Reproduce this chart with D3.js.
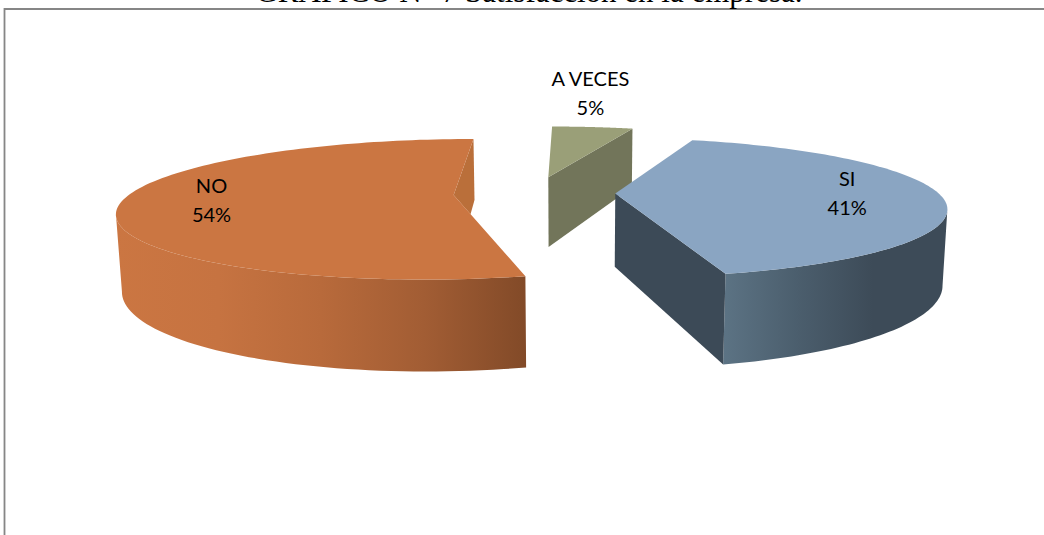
<!DOCTYPE html>
<html lang="es">
<head>
<meta charset="utf-8">
<title>Satisfacción en la empresa</title>
<script src="https://cdn.jsdelivr.net/npm/d3@7"></script>
<style>
  html, body { margin: 0; padding: 0; background: #fff; overflow: hidden; }
  svg { display: block; }
</style>
</head>
<body>
<script>
// Survey answers, in pie order (clockwise from the back of the pie)
const categories = ["A VECES", "SI", "NO"];
const percentages = [5, 41, 54];
const titleText = "GRÁFICO N° 7 Satisfacción en la empresa.";

const width = 1044, height = 535;

// Perspective camera for the pie's ground plane
const cam = {
  vanishX: 572, horizonY: -140,   // vanishing point of the pie's "north" axis
  centerX: 534.5, centerY: 193,   // pie centre on screen
  radiusX: 323,                   // screen radius at the centre's depth
  depth: 5,                       // camera distance in pie radii
  thickness: 73,                  // wall height at the centre's depth
  convergence: 0.00017,           // inward lean of the walls per pixel of height
  explode: 0.25                   // slice offset in pie radii
};

// Project a ground-plane point (X to the right, Z away from the viewer)
function project(X, Z) {
  const s = 1 / (1 + Z / cam.depth);
  return {
    x: cam.vanishX + s * (cam.centerX - cam.vanishX + cam.radiusX * X),
    y: cam.horizonY + s * (cam.centerY - cam.horizonY),
    s
  };
}
// Same point at the bottom of the slab
function drop(p) {
  const h = cam.thickness * p.s;
  return { x: cam.vanishX + (p.x - cam.vanishX) * (1 - cam.convergence * h), y: p.y + h };
}

const pie = d3.pie().sort(null).value(d => d.value);
const slices = pie(categories.map((name, i) => ({ name, value: percentages[i] })));

const styles = {
  "A VECES": { top: "#9a9f78", cut: "#72755a", ramp: ["#72755a", "#72755a"] },
  "SI":      { top: "#8aa5c2", cut: "#3c4a57", ramp: ["#5c7384", "#4b5e6d", "#3d4b58", "#3d4b58"] },
  "NO":      { top: "#cb7642", cut: "#ba6f3a", ramp: ["#cb7642", "#c67341", "#b86a3b", "#a25d34", "#824a28"] }
};
// Label anchors on the ground plane, in pie radii
const labelPlace = { "A VECES": [0.2, 2.37], "SI": [0.985, 0.1], "NO": [-1.0, 0] };

const svg = d3.select("body").append("svg").attr("width", width).attr("height", height);
const defs = svg.append("defs");
const path = d3.line().x(d => d.x).y(d => d.y);
const closed = pts => path(pts) + "Z";

// Frame of the chart area, running past the right and bottom edges
svg.append("path")
  .attr("d", `M${width + 5},9H4.5V${height + 5}`)
  .attr("fill", "none").attr("stroke", "#868686").attr("stroke-width", 1.8);

// Caption, cut by the top of the page
svg.append("text")
  .attr("x", 529).attr("y", 1.5)
  .attr("text-anchor", "middle")
  .attr("font-family", "'Liberation Serif', serif")
  .attr("font-size", 31)
  .attr("fill", "#000")
  .text(titleText);

function intersect(a, b, c, d) {
  const den = (a.x - b.x) * (c.y - d.y) - (a.y - b.y) * (c.x - d.x);
  const t = ((a.x - c.x) * (c.y - d.y) - (a.y - c.y) * (c.x - d.x)) / den;
  return { x: a.x + t * (b.x - a.x), y: a.y + t * (b.y - a.y) };
}

slices.forEach(sl => {
  const name = sl.data.name, st = styles[name];
  const mid = (sl.startAngle + sl.endAngle) / 2;
  const ox = cam.explode * Math.sin(mid), oz = cam.explode * Math.cos(mid);
  const at = (a, r = 1) => project(ox + r * Math.sin(a), oz + r * Math.cos(a));
  const apex = at(0, 0);
  const g = svg.append("g").attr("class", "slice");

  const steps = d3.range(0, 121).map(i => sl.startAngle + (sl.endAngle - sl.startAngle) * i / 120);
  const rim = steps.map(a => at(a));
  const startPt = rim[0], endPt = rim[rim.length - 1];
  const lowEnd = drop(endPt), lowApex = drop(apex);

  // The NO slice shows a sliver of its back cut face, trimmed by its front edge
  if (name === "NO") {
    const corner = intersect(lowEnd, lowApex, apex, startPt);
    g.append("path").attr("d", closed([apex, endPt, lowEnd, corner])).attr("fill", st.cut);
  }

  // Outer curved wall, from the slice's widest point round to the viewer's side
  const widest = steps[d3.greatestIndex(rim, p => Math.abs(p.x - cam.vanishX))];
  const front = steps.filter(a => Math.cos(a) <= Math.cos(widest));
  if (front.length > 1) {
    const topEdge = front.map(a => at(a));
    const bottomEdge = topEdge.map(drop);
    const xs = d3.extent(topEdge.concat(bottomEdge), d => d.x);
    const id = "wall-" + name.replace(/\W/g, "");
    const grad = defs.append("linearGradient").attr("id", id)
      .attr("gradientUnits", "userSpaceOnUse")
      .attr("x1", xs[0]).attr("x2", xs[1]).attr("y1", 0).attr("y2", 0);
    st.ramp.forEach((c, i) => grad.append("stop")
      .attr("offset", i / (st.ramp.length - 1)).attr("stop-color", c));
    g.append("path").attr("d", closed(topEdge.concat(bottomEdge.reverse())))
      .attr("fill", `url(#${id})`);
  }

  // Cut face along the end edge, for the slices that turn it towards the viewer
  if (name !== "NO") {
    g.append("path").attr("d", closed([apex, endPt, lowEnd, lowApex])).attr("fill", st.cut);
  }

  // Top face
  g.append("path").attr("d", closed([apex].concat(rim))).attr("fill", st.top);
});

// Category and percentage labels
slices.forEach(sl => {
  const name = sl.data.name;
  const [lx, lz] = labelPlace[name];
  const p = project(lx, lz);
  const t = svg.append("text")
    .attr("text-anchor", "middle")
    .attr("font-family", "Lato, 'Open Sans', sans-serif")
    .attr("font-size", 20)
    .attr("fill", "#000");
  t.append("tspan").attr("x", p.x).attr("y", p.y).text(name);
  t.append("tspan").attr("x", p.x).attr("y", p.y + 29).text(sl.data.value + "%");
});
</script>
</body>
</html>
